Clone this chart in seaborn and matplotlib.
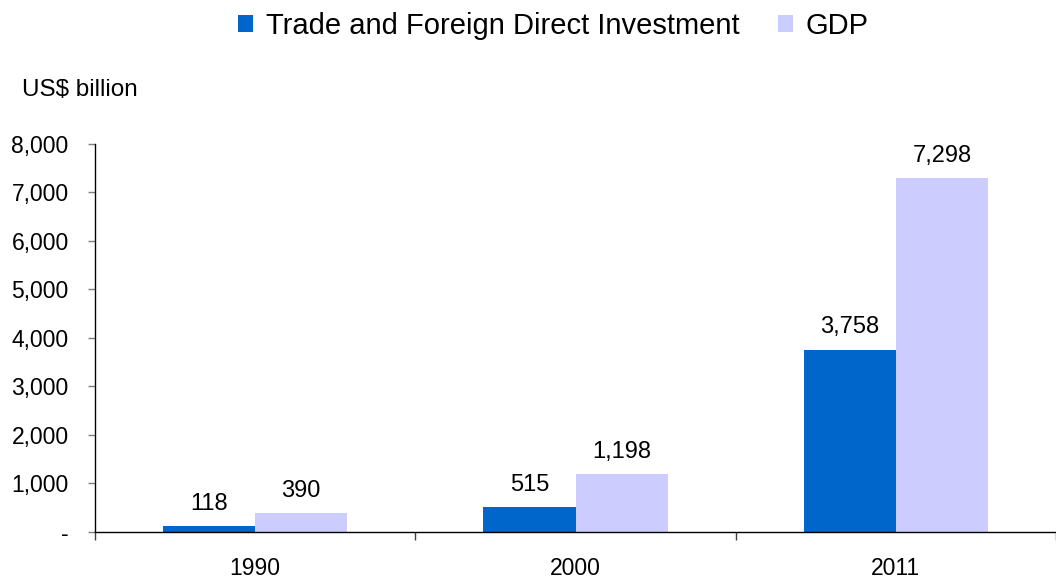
import pandas as pd
import numpy as np
import matplotlib
matplotlib.use('Agg')
import matplotlib.pyplot as plt
import seaborn as sns

years = ['1990', '2000', '2011']
trade_fdi = [118, 515, 3758]
gdp = [390, 1198, 7298]
series_names = ['Trade and Foreign Direct Investment', 'GDP']
colors = ['#0066CC', '#CCCCFF']

df = pd.DataFrame({
    'Year': years * 2,
    'Value': trade_fdi + gdp,
    'Series': [series_names[0]] * 3 + [series_names[1]] * 3,
})

sns.set_style('white')
plt.rcParams['font.family'] = ['Liberation Sans', 'DejaVu Sans']
plt.rcParams['text.color'] = 'black'
plt.rcParams['xtick.color'] = 'black'
plt.rcParams['ytick.color'] = 'black'

fig = plt.figure(figsize=(10.56, 5.82), dpi=100)
ax = fig.add_axes([0.09, 0.086, 0.91, 0.667])

sns.barplot(data=df, x='Year', y='Value', hue='Series', palette=colors,
            width=0.575, saturation=1, linewidth=0, ax=ax, legend=True)

for c in ax.containers:
    ax.bar_label(c, labels=[f'{v:,.0f}' for v in c.datavalues],
                 padding=8, fontsize=17, color='black')

ax.set_ylim(0, 8000)
ax.set_xlim(-0.5, 2.5)
yt = np.arange(0, 8001, 1000)
ax.set_yticks(yt)
ax.set_yticklabels(['-'] + [f'{v:,}' for v in yt[1:]], fontsize=16.5)
ax.tick_params(axis='y', left=True, length=5, width=1, color='#808080',
               labelcolor='black', pad=14)
ax.tick_params(axis='x', which='major', length=0, labelsize=16.5, pad=18,
               labelcolor='black')
ax.set_xticks([-0.5, 0.5, 1.5, 2.5], minor=True)
ax.tick_params(axis='x', which='minor', bottom=True, length=5.5, width=1,
               direction='out', color='#404040')
ax.set_xlabel('')
ax.set_ylabel('')

sns.despine(ax=ax)
for s in ['left', 'bottom']:
    ax.spines[s].set_color('black')
    ax.spines[s].set_linewidth(1)

h, l = ax.get_legend_handles_labels()
ax.get_legend().remove()
fig.legend(h, l, loc='upper center', bbox_to_anchor=(0.524, 1.025), ncol=2,
           frameon=False, fontsize=21, handlelength=0.52, handleheight=0.52,
           handletextpad=0.45, columnspacing=1.3)

fig.text(0.021, 0.845, 'US$ billion', fontsize=17.5, ha='left', va='center')

fig.savefig('out.png', dpi=100)
